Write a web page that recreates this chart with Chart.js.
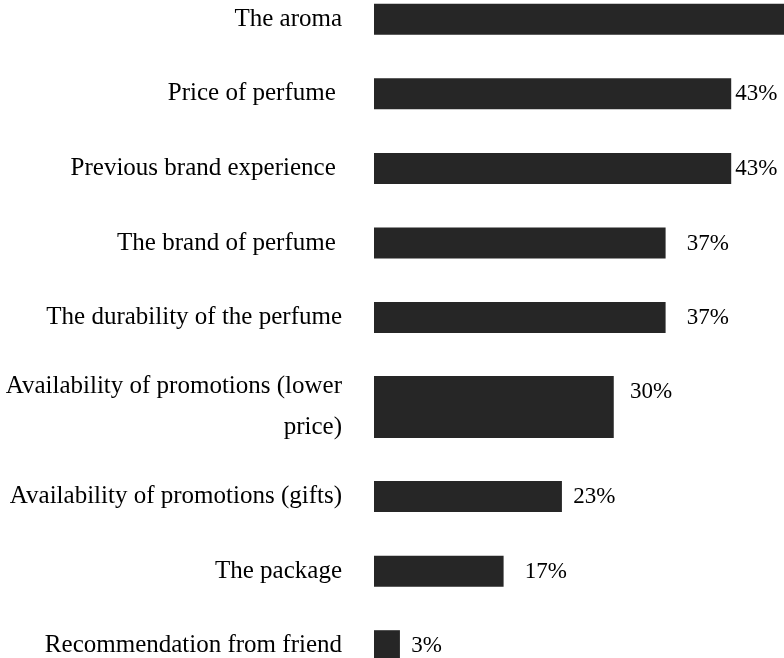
<!DOCTYPE html>
<html>
<head>
<meta charset="utf-8">
<script src="https://cdn.jsdelivr.net/npm/chart.js@4/dist/chart.umd.min.js"></script>
<style>
    html, body { margin: 0; padding: 0; background: #fff; overflow: hidden; width: 784px; height: 658px; }
    #wrap { position: absolute; left: 0; top: -18px; width: 1022px; height: 701px; }
</style>
</head>
<body>
<div id="wrap"><canvas id="factorsChart"></canvas></div>
<script>
// Factors when choosing a perfume
const categories = [
    'The aroma',
    'Price of perfume ',
    'Previous brand experience ',
    'The brand of perfume ',
    'The durability of the perfume',
    ['Availability of promotions (lower', 'price)'],
    'Availability of promotions (gifts)',
    'The package',
    'Recommendation from friend'
];
// bar lengths (%)
const values = [60, 44.1, 44.1, 36.0, 36.0, 29.6, 23.2, 16.0, 3.2];
// value labels as printed next to the bars
const valueLabels = ['60%', '43%', '43%', '37%', '37%', '30%', '23%', '17%', '3%'];

const barColor = '#262626';
const isTall = categories.map(c => Array.isArray(c));

// category scale where two-line rows take more room
class WeightedCategoryScale extends Chart.CategoryScale {
    getPixelForValue(value) {
        if (typeof value !== 'number') value = this.parse(value);
        if (value === null || isNaN(value)) return NaN;
        const w = this.options.rowWeights || [];
        const n = this.getLabels().length;
        let total = 0;
        for (let i = 0; i < n; i++) total += (w[i] || 1);
        const idx = Math.round(value);
        let acc = 0;
        for (let i = 0; i < idx; i++) acc += (w[i] || 1);
        acc += (w[idx] || 1) / 2;
        return this.getPixelForDecimal(acc / total);
    }
}
WeightedCategoryScale.id = 'weightedCategory';
WeightedCategoryScale.defaults = Chart.CategoryScale.defaults;
Chart.register(WeightedCategoryScale);

const valueLabelPlugin = {
    id: 'valueLabels',
    afterDatasetsDraw(chart) {
        const ctx = chart.ctx;
        const xScale = chart.scales.x;
        ctx.save();
        ctx.font = '23px "Liberation Serif", "Times New Roman", serif';
        ctx.fillStyle = '#000';
        ctx.textAlign = 'left';
        ctx.textBaseline = 'middle';
        chart.data.datasets.forEach((ds, di) => {
            const meta = chart.getDatasetMeta(di);
            meta.data.forEach((bar, i) => {
                if (ds.data[i] === null) return;
                const x = xScale.getPixelForValue(parseFloat(valueLabels[i])) + 13;
                const y = bar.y - bar.height / 2 + 16;
                ctx.fillText(valueLabels[i], x, y);
            });
        });
        ctx.restore();
    }
};

new Chart(document.getElementById('factorsChart'), {
    type: 'bar',
    data: {
        labels: categories,
        datasets: [{
            data: values.map((v, i) => isTall[i] ? null : v),
            backgroundColor: barColor,
            categoryPercentage: 1,
            barPercentage: 0.416
        }, {
            data: values.map((v, i) => isTall[i] ? v : null),
            backgroundColor: barColor,
            categoryPercentage: 1,
            barPercentage: 0.832
        }]
    },
    options: {
        indexAxis: 'y',
        responsive: true,
        maintainAspectRatio: false,
        animation: false,
        layout: { padding: 0 },
        datasets: { bar: { grouped: false } },
        scales: {
            x: {
                display: false,
                min: 0,
                max: 80
            },
            y: {
                type: 'weightedCategory',
                rowWeights: isTall.map(t => t ? 1.4 : 1),
                grid: { display: false },
                border: { display: false },
                ticks: {
                    autoSkip: false,
                    padding: 24,
                    color: '#000',
                    font: { family: '"Liberation Serif", "Times New Roman", serif', size: 25, lineHeight: 1.62 }
                },
                afterFit(scale) {
                    scale.width = 374;
                    scale.paddingTop = 0;
                    scale.paddingBottom = 0;
                }
            }
        },
        plugins: {
            legend: { display: false },
            tooltip: { enabled: false }
        }
    },
    plugins: [valueLabelPlugin]
});
</script>
</body>
</html>
